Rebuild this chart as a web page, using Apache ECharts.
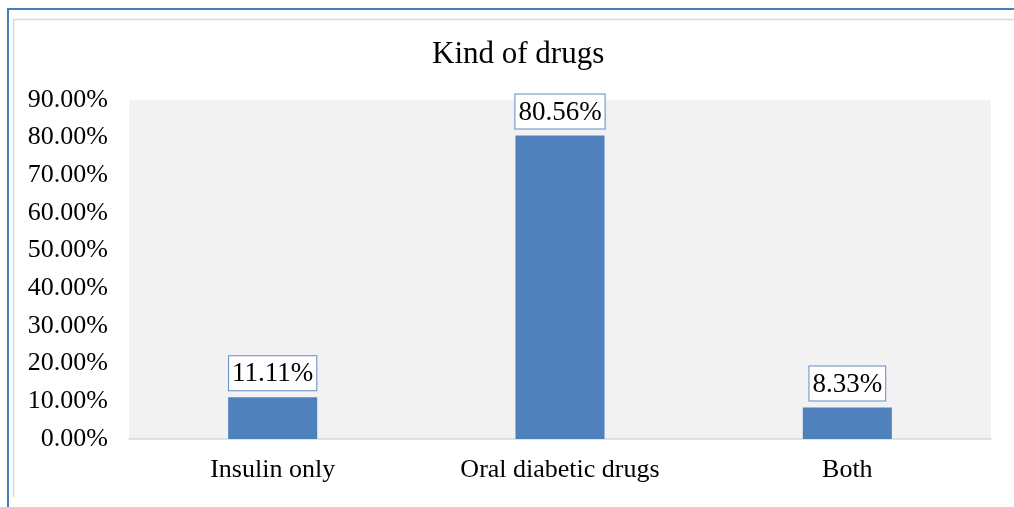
<!DOCTYPE html>
<html>
<head>
<meta charset="utf-8">
<script src="https://cdn.jsdelivr.net/npm/echarts@6/dist/echarts.min.js"></script>
<style>
    html, body { margin: 0; padding: 0; background: #fff; }
    #chart { width: 1014px; height: 507px; }
</style>
</head>
<body>
<div id="chart"></div>
<script>
const categories = ['Insulin only', 'Oral diabetic drugs', 'Both']
const percentages = [11.11, 80.56, 8.33]
const yTicks = { min: 0, max: 90, interval: 10 }

const chart = echarts.init(document.getElementById('chart'))
const serif = '"Liberation Serif", "Times New Roman", serif'

chart.setOption({
    animation: false,
    textStyle: { fontFamily: serif },
    title: {
        text: 'Kind of drugs',
        left: 427,
        top: 34,
        textStyle: { fontFamily: serif, fontSize: 31, fontWeight: 'normal', color: '#000' }
    },
    graphic: [
        // outer frame (blue) and inner gray border
        { type: 'line', shape: { x1: 7, y1: 9, x2: 1014, y2: 9 }, style: { stroke: '#4a7ebb', lineWidth: 2 } },
        { type: 'line', shape: { x1: 8, y1: 8, x2: 8, y2: 507 }, style: { stroke: '#4a7ebb', lineWidth: 2 } },
        { type: 'line', shape: { x1: 13, y1: 19.5, x2: 1014, y2: 19.5 }, style: { stroke: '#d9d9d9', lineWidth: 1.5 } },
        { type: 'line', shape: { x1: 13.5, y1: 19, x2: 13.5, y2: 497 }, style: { stroke: '#d9d9d9', lineWidth: 1.5 } }
    ],
    grid: {
        left: 129,
        right: 23,
        top: 100,
        bottom: 68,
        show: true,
        backgroundColor: '#f2f2f2',
        borderWidth: 0
    },
    xAxis: {
        type: 'category',
        data: categories,
        axisLine: { lineStyle: { color: '#d9d9d9', width: 1.5 } },
        axisTick: { show: false },
        axisLabel: { color: '#000', fontSize: 26, fontFamily: serif, margin: 18 }
    },
    yAxis: {
        type: 'value',
        min: yTicks.min,
        max: yTicks.max,
        interval: yTicks.interval,
        splitLine: { show: false },
        axisLine: { show: false },
        axisTick: { show: false },
        axisLabel: {
            color: '#000',
            fontSize: 26,
            fontFamily: serif,
            margin: 21,
            formatter: v => v.toFixed(2) + '%'
        }
    },
    series: [{
        type: 'bar',
        data: percentages,
        barWidth: '31%',
        itemStyle: { color: '#4f81bd' },
        label: {
            show: true,
            position: 'top',
            distance: 7,
            formatter: p => p.value.toFixed(2) + '%',
            color: '#000',
            fontSize: 27,
            lineHeight: 28,
            fontFamily: serif,
            backgroundColor: '#fff',
            borderColor: '#5f8cc6',
            borderWidth: 1,
            padding: [4, 3, 2, 3]
        }
    }]
})
</script>
</body>
</html>
